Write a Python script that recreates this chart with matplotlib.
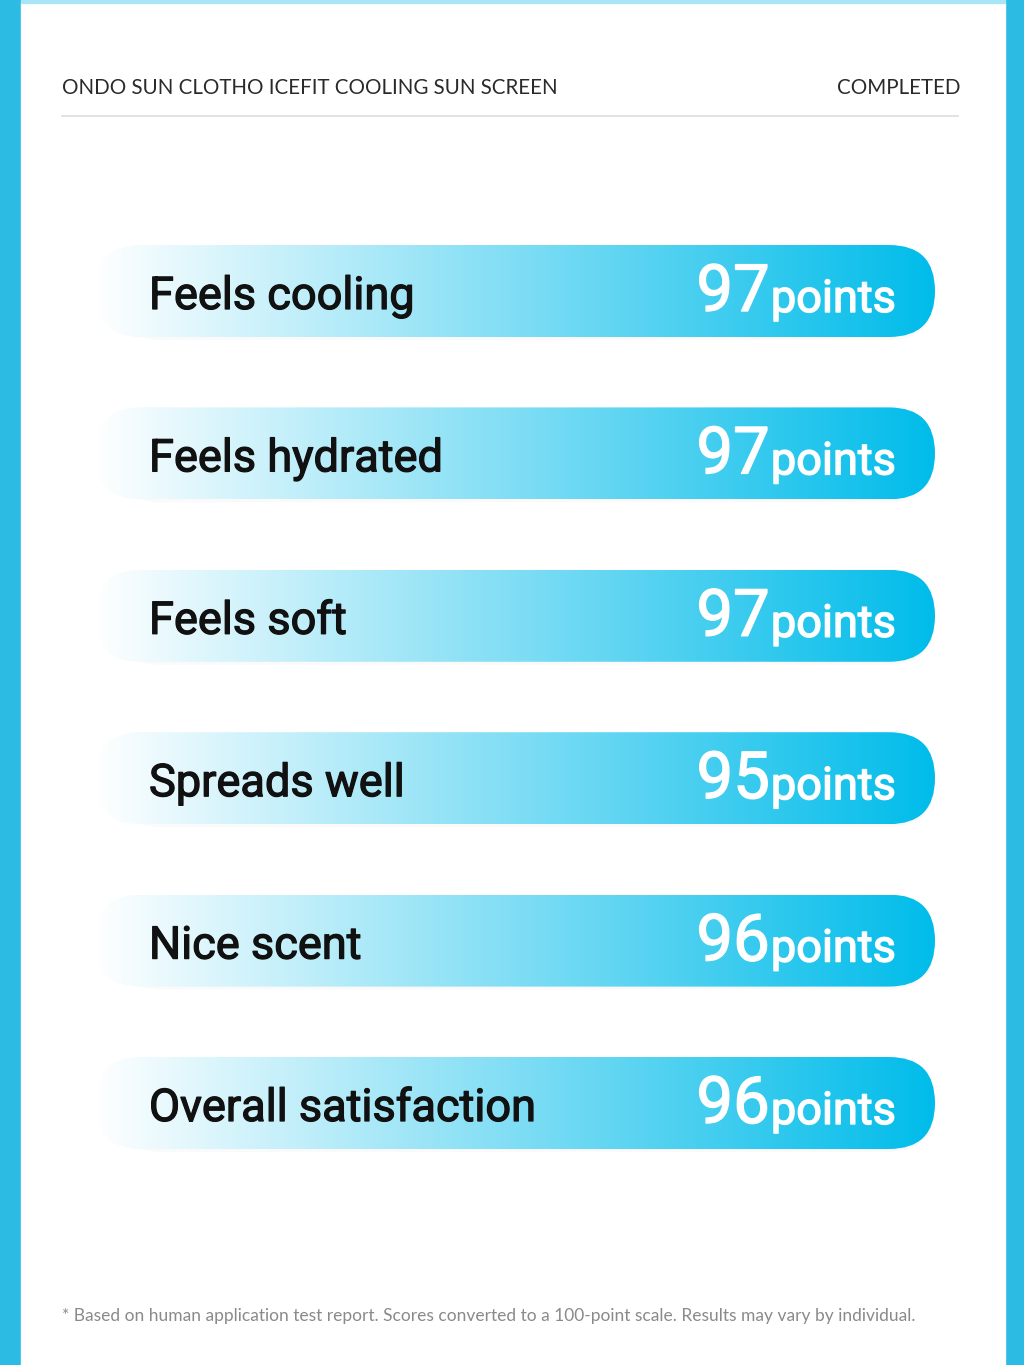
"""Survey score card: cooling sun screen user test results."""
import numpy as np
import matplotlib
matplotlib.use("Agg")
import matplotlib.pyplot as plt
import matplotlib.patheffects as pe
from matplotlib.patches import FancyBboxPatch, Rectangle

# data
categories = ["Feels cooling", "Feels hydrated", "Feels soft",
              "Spreads well", "Nice scent", "Overall satisfaction"]
scores = [97, 97, 97, 95, 96, 96]
unit = "points"
title = "ONDO SUN CLOTHO ICEFIT COOLING SUN SCREEN"
status = "COMPLETED"
footnote = ("* Based on human application test report. Scores converted to a "
            "100-point scale. Results may vary by individual.")

W, H = 1024, 1365
BORDER = "#2cbbe2"
END = np.array([0, 188, 234]) / 255

fig = plt.figure(figsize=(W / 100, H / 100), dpi=100, facecolor=BORDER)
ax = fig.add_axes([0, 0, 1, 1])
ax.set_xlim(0, W)
ax.set_ylim(H, 0)
ax.axis("off")

# white card
ax.add_patch(Rectangle((21, 3), 984, H, color="white", zorder=0))
ax.add_patch(Rectangle((21, 0), 984, 3, color="#a8e6f6", zorder=0))

# header
ax.text(62, 88, title, fontsize=14.8, family="Lato", color="#2a2a2a",
        va="center", ha="left")
ax.text(961, 88, status, fontsize=14.8, family="Lato", color="#2a2a2a",
        va="center", ha="right")
ax.plot([62, 958], [116, 116], color="#dddddd", lw=1.2)

# gradient image
t = np.linspace(0, 1, 512)
grad = np.ones((2, 512, 3))
for k in range(3):
    grad[:, :, k] = 1 + (END[k] - 1) * t

x0, x1, bh = 95, 935, 92
row_top = 245
step = 162.4
renderer = fig.canvas.get_renderer()
thick_dark = [pe.withStroke(linewidth=0.9, foreground="#111111")]
thick_white = [pe.withStroke(linewidth=1.0, foreground="white")]

for i, (cat, sc) in enumerate(zip(categories, scores)):
    top = row_top + i * step
    yc = top + bh / 2
    # soft shadow
    sh = FancyBboxPatch((x0 + 20, top + 3), x1 - x0 - 20, bh,
                        boxstyle=f"round,pad=0,rounding_size={bh/2}",
                        fc="#000000", ec="none", alpha=0.02, zorder=1)
    ax.add_patch(sh)
    box = FancyBboxPatch((x0, top), x1 - x0, bh,
                         boxstyle=f"round,pad=0,rounding_size={bh/2}",
                         fc="none", ec="none", zorder=2)
    ax.add_patch(box)
    im = ax.imshow(grad, extent=(x0, x1, top + bh, top), aspect="auto",
                   zorder=2, interpolation="bilinear")
    im.set_clip_path(box)

    ax.text(149, yc + 18, cat, fontsize=32.5, family="Roboto",
            color="#111111", va="baseline", ha="left", zorder=3,
            path_effects=thick_dark)
    pt = ax.text(896, yc + 21, unit, fontsize=32.5, family="Roboto",
                 color="white", va="baseline", ha="right", zorder=3,
                 path_effects=thick_white)
    bb = pt.get_window_extent(renderer=renderer)
    left = ax.transData.inverted().transform((bb.x0, bb.y0))[0]
    ax.text(left - 1, yc + 20, str(sc), fontsize=47, family="Roboto",
            color="white", va="baseline", ha="right", zorder=3,
            path_effects=thick_white)

# footnote
ax.text(62, 1316, footnote, fontsize=12.5, family="Lato", color="#8a8a8a",
        va="center", ha="left")

fig.savefig("out.png", dpi=100, facecolor=BORDER)
